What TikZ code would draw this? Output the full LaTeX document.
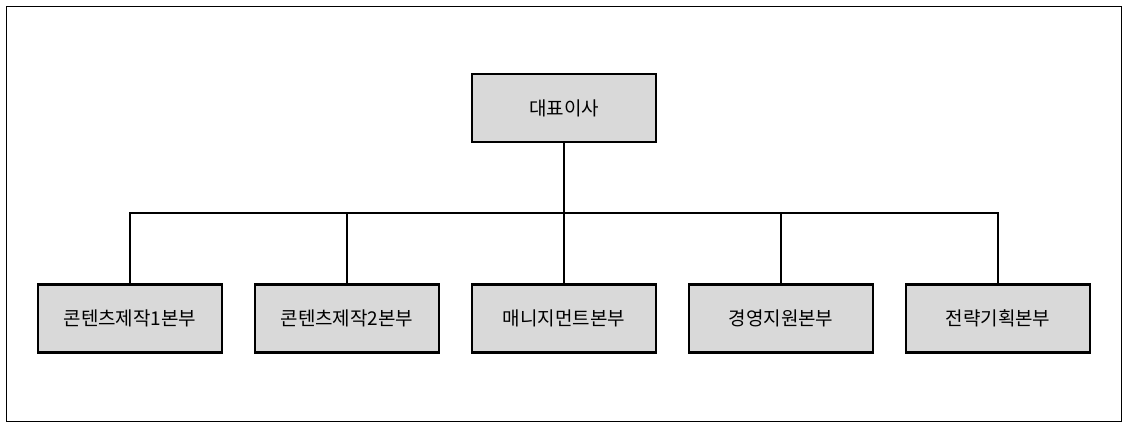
\documentclass[tikz,border=0pt]{standalone}
\usepackage{fontspec}
\newfontfamily\kr{Noto Sans CJK KR}
\begin{document}
\begin{tikzpicture}[x=1pt,y=-1pt,
  box/.style={draw,line width=2.4pt,fill=gray!30,minimum width=184pt,minimum height=68pt,inner sep=0pt,font=\kr\fontsize{19}{22}\selectfont},
  conn/.style={line width=2.4pt}]
\useasboundingbox (0,0) rectangle (1126,427);
\draw[line width=0.6pt] (6,6) rectangle (1121,421);
\node[box] (top) at (564,108) {대표이사};
\node[box] (b1) at (130,318.5) {콘텐츠제작1본부};
\node[box] (b2) at (347,318.5) {콘텐츠제작2본부};
\node[box] (b3) at (564,318.5) {매니지먼트본부};
\node[box] (b4) at (781,318.5) {경영지원본부};
\node[box] (b5) at (998,318.5) {전략기획본부};
\coordinate (bus) at (564,213);
\draw[conn] (top.south) -- (bus);
\draw[conn] (b1.north) |- (bus) -| (b5.north);
\foreach \n in {b2,b3,b4} \draw[conn] (\n.north) -- (\n.north |- bus);
\end{tikzpicture}
\end{document}
